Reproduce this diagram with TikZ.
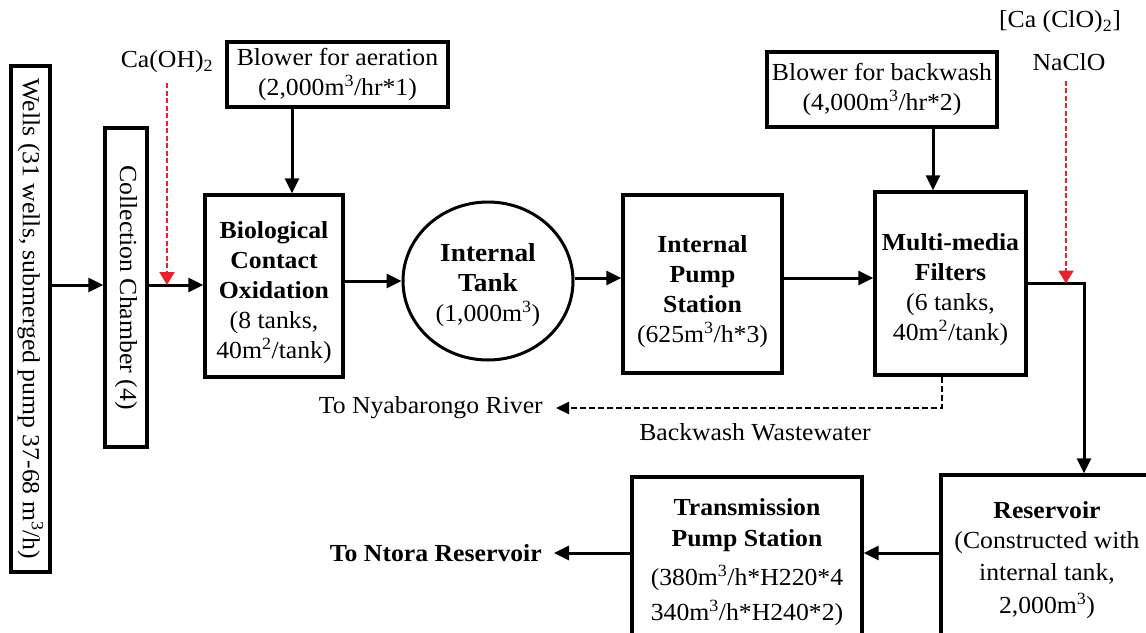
\documentclass[tikz,border=0pt]{standalone}
\usepackage{fontspec}
\usepackage{graphicx}
\setmainfont{Liberation Serif}[FakeStretch=1.05]
\usetikzlibrary{arrows.meta,shapes.geometric}
\newcommand{\cubic}{m\textsuperscript{3}}
\newcommand{\sqm}{m\textsuperscript{2}}
\definecolor{dosered}{RGB}{230,35,45}

\begin{document}
\begin{tikzpicture}[x=1pt,y=-1pt,
  every node/.style={font=\fontsize{24.5}{30}\selectfont, inner sep=0pt},
  box/.style={draw, line width=3.4pt},
  tankshape/.style={draw, ellipse, line width=3pt},
  txt/.style={align=center},
  arr/.style={line width=3pt, -{Triangle[length=15pt,width=14pt]}},
  dose/.style={dosered, line width=2.2pt, dash pattern=on 5pt off 2.5pt,
    -{Triangle[length=13pt,width=15pt]}},
  waste/.style={line width=2pt, dash pattern=on 6pt off 3pt,
    -{Triangle[length=13pt,width=12pt]}}]

\path[use as bounding box] (0,0) rectangle (1146,632);
\clip (0,0) rectangle (1146,632);
\fill[white] (0,0) rectangle (1146,632);

% process units
\node[box, minimum width=39pt, minimum height=506pt] (wells) at (30.5,319)
  {\rotatebox{-90}{Wells (31 wells, submerged pump 37-68 \cubic/h)}};
\node[box, minimum width=42pt, minimum height=319pt] (cc) at (126,287.5)
  {\rotatebox{-90}{Collection Chamber (4)}};
\node[box, txt, minimum width=221pt, minimum height=65pt] (blowA) at (337.5,74.5)
  {Blower for aeration\\(2,000\cubic/hr*1)};
\node[box, minimum width=138pt, minimum height=182pt] (bco) at (274,286) {};
\node[txt] (bcoText) at ([yshift=-7pt]bco.center)
  {\textbf{Biological}\\\textbf{Contact}\\\textbf{Oxidation}\\(8 tanks,\\40\sqm/tank)};
\node[tankshape, minimum width=170pt, minimum height=158pt] (tank) at (488,281) {};
\node[txt] (tankText) at ([yshift=-4pt]tank.center)
  {\fontsize{26}{31}\selectfont\textbf{Internal}\\\fontsize{26}{31}\selectfont\textbf{Tank}\\(1,000\cubic)};
\node[box, minimum width=159pt, minimum height=178pt] (ips) at (702.5,284) {};
\node[txt] (ipsText) at ([yshift=-8pt]ips.center)
  {\textbf{Internal}\\\textbf{Pump}\\\textbf{Station}\\(625\cubic/h*3)};
\node[box, minimum width=151pt, minimum height=183pt] (mmf) at (950.5,283.5) {};
\node[txt] (mmfText) at ([yshift=-6pt]mmf.center)
  {\textbf{Multi-media}\\\textbf{Filters}\\(6 tanks,\\40\sqm/tank)};
\node[box, txt, minimum width=230pt, minimum height=75pt] (blowB) at (882,89.5)
  {Blower for backwash\\(4,000\cubic/hr*2)};
\node[box, txt, minimum width=212pt, minimum height=170pt] (res) at (1047,560)
  {\textbf{Reservoir}\\(Constructed with\\[2pt]internal tank,\\[3pt]2,000\cubic)};
\node[box, txt, minimum width=230pt, minimum height=170pt] (tps) at (747,562)
  {\textbf{Transmission}\\[1pt]\textbf{Pump Station}\\[9pt](380\cubic/h*H220*4\\[5pt]340\cubic/h*H240*2)};

% chemicals and outlets
\node[txt] (caoh) at (167,62) {Ca(OH)\textsubscript{2}};
\node[txt] (cacl) at (1060,22) {[Ca (ClO)\textsubscript{2}]};
\node[txt] (naclo) at (1069,62) {NaClO};
\node[txt, anchor=east] (nyab) at (543,408) {To Nyabarongo River};
\node[txt] (bwlabel) at (755,432) {Backwash Wastewater};
\node[txt, anchor=east] (ntora) at (542,553) {\textbf{To Ntora Reservoir}};

% guide coordinates for the flow lines
\coordinate (yin) at (0,285);
\coordinate (ymid) at (0,278);
\coordinate (ylow) at (0,553);
\coordinate (xair) at (292,0);
\coordinate (xbw) at (933,0);
\coordinate (xcl) at (1066,0);
\coordinate (xout) at (1084,0);
\coordinate (xwaste) at (942,0);

% main treatment line
\draw[arr] (wells.east |- yin) -- (cc.west |- yin);
\draw[arr] (cc.east |- yin) -- (bco.west |- yin);
\draw[arr] (bco.east |- tank.west) -- (tank.west);
\draw[arr] (tank.east |- ymid) -- (ips.west |- ymid);
\draw[arr] (ips.east |- ymid) -- (mmf.west |- ymid);
\draw[arr] (mmf.east) -| (res.north -| xout);
\draw[arr] (res.west |- ylow) -- (tps.east |- ylow);
\draw[arr, shorten >=12pt] (tps.west |- ylow) -- (ntora.east);

% air supply
\draw[arr] (blowA.south -| xair) -- (bco.north -| xair);
\draw[arr] (blowB.south -| xbw) -- (mmf.north -| xbw);

% chemical dosing
\draw[dose, shorten <=10pt] (caoh.south) -- (caoh.south |- yin);
\draw[dose, shorten <=10pt] (naclo.south -| xcl) -- (mmf.east -| xcl);

% backwash wastewater
\draw[waste, shorten >=13pt] (mmf.south -| xwaste) |- (nyab.east);
\end{tikzpicture}
\end{document}
